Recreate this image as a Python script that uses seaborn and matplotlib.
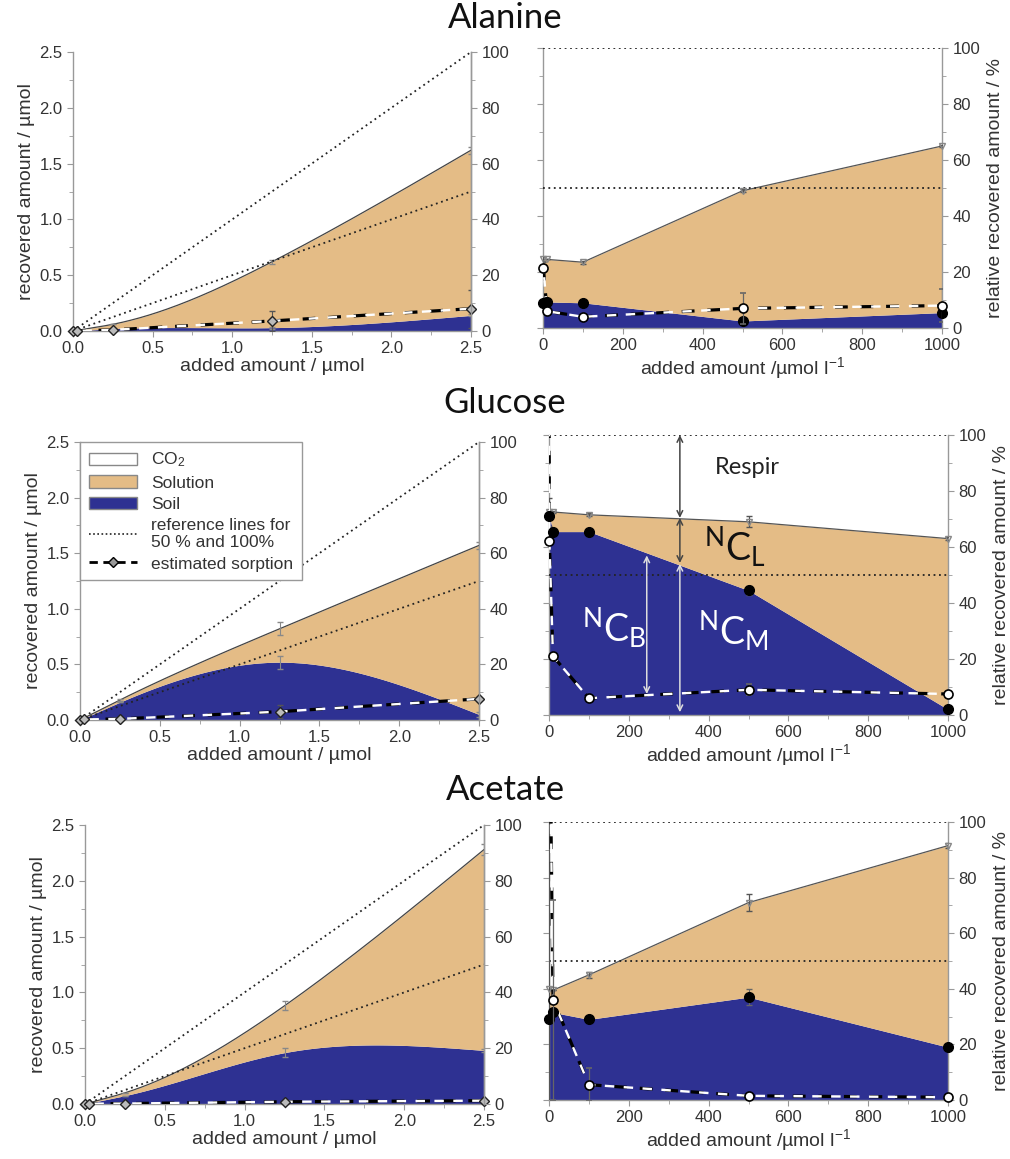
import numpy as np
import matplotlib
matplotlib.use('agg')
import matplotlib.pyplot as plt
from matplotlib.patches import Patch
from matplotlib.lines import Line2D
from matplotlib.ticker import MultipleLocator
import seaborn as sns

# added amounts (left panels, µmol) and concentrations (right panels, µmol/l)
amt = [0, 0.025, 0.25, 1.25, 2.5]
conc = [1, 10, 100, 500, 1000]

# Alanine
ala_amt_tot = [0, 0.006, 0.06, 0.62, 1.62]
ala_amt_tot_err = [0, 0, 0, 0.02, 0.03]
ala_amt_soil = [0, 0.002, 0.02, 0.03, 0.14]
ala_amt_soil_err = [0, 0, 0, 0.01, 0.01]
ala_amt_sorp = [0, 0.001, 0.01, 0.09, 0.2]
ala_amt_sorp_err = [0, 0, 0, 0.09, 0.17]
ala_pct_tot = [24.5, 24.5, 23.5, 49, 65]
ala_pct_tot_err = [1, 0, 0.5, 0.5, 0.5]
ala_pct_soil = [9, 9.3, 9, 2.5, 5.5]
ala_pct_soil_err = [2, 0, 0, 0, 0]
ala_sorp_x = [1, 10, 100, 500, 1000]
ala_pct_sorp = [21.5, 6, 4, 7, 8]
ala_pct_sorp_err = [2, 0, 0, 5.5, 6]

# Glucose
glu_amt_tot = [0, 0.018, 0.18, 0.82, 1.57]
glu_amt_tot_err = [0, 0, 0.01, 0.06, 0.03]
glu_amt_soil = [0, 0.016, 0.16, 0.52, 0.05]
glu_amt_soil_err = [0, 0, 0, 0.06, 0.02]
glu_amt_sorp = [0, 0.005, 0.01, 0.075, 0.19]
glu_amt_sorp_err = [0, 0, 0, 0.06, 0.02]
glu_pct_tot = [72.5, 72.5, 71.5, 69, 63]
glu_pct_tot_err = [5, 0.5, 0.5, 2, 0.5]
glu_pct_soil = [71, 65.5, 65.5, 44.5, 2]
glu_pct_soil_err = [1, 0, 0, 1.5, 0]
glu_sorp_x = [0, 1, 10, 100, 500, 1000]
glu_pct_sorp = [140, 62, 21, 6, 9, 7.5]
glu_pct_sorp_err = [0, 0, 0, 0, 2, 0]

# Acetate
ace_amt_tot = [0, 0.01, 0.1, 0.88, 2.28]
ace_amt_tot_err = [0, 0, 0, 0.04, 0.05]
ace_amt_soil = [0, 0.008, 0.075, 0.46, 0.48]
ace_amt_soil_err = [0, 0, 0, 0.04, 0.01]
ace_amt_sorp = [0, 0.003, 0.004, 0.02, 0.03]
ace_amt_sorp_err = [0, 0, 0, 0.01, 0.01]
ace_pct_tot = [40, 39.5, 45, 71, 91.5]
ace_pct_tot_err = [60, 0, 1, 3, 1]
ace_pct_soil = [29, 31.5, 29, 37, 19]
ace_pct_soil_err = [0, 0, 0, 3, 0]
ace_sorp_x = [1, 10, 100, 500, 1000]
ace_pct_sorp = [150, 36, 5.5, 1.5, 1]
ace_pct_sorp_err = [0, 36, 6, 1, 0]

TAN = '#E4BC86'
NAVY = '#2E3192'
SPINE = '#999999'
TXT = '#333333'
TICK_FS = 12
LABEL_FS = 14

sns.set_style('ticks')
plt.rcParams['font.family'] = ['Liberation Sans', 'DejaVu Sans']
plt.rcParams['mathtext.fontset'] = 'custom'
plt.rcParams['mathtext.rm'] = 'Liberation Sans'
plt.rcParams['mathtext.it'] = 'Liberation Sans:italic'
plt.rcParams['mathtext.bf'] = 'Liberation Sans:bold'
plt.rcParams['mathtext.sf'] = 'Lato'


def spline(x, y, n=300):
    # natural cubic spline, used only to draw the smooth curves of the left panels
    x = np.asarray(x, float)
    y = np.asarray(y, float)
    h = np.diff(x)
    m = len(x)
    A = np.zeros((m, m))
    r = np.zeros(m)
    A[0, 0] = A[-1, -1] = 1
    for i in range(1, m - 1):
        A[i, i - 1] = h[i - 1]
        A[i, i] = 2 * (h[i - 1] + h[i])
        A[i, i + 1] = h[i]
        r[i] = 3 * ((y[i + 1] - y[i]) / h[i] - (y[i] - y[i - 1]) / h[i - 1])
    c = np.linalg.solve(A, r)
    b = (y[1:] - y[:-1]) / h - h * (2 * c[:-1] + c[1:]) / 3
    d = (c[1:] - c[:-1]) / (3 * h)
    xs = np.linspace(x[0], x[-1], n)
    idx = np.clip(np.searchsorted(x, xs) - 1, 0, m - 2)
    dx = xs - x[idx]
    ys = y[idx] + b[idx] * dx + c[idx] * dx ** 2 + d[idx] * dx ** 3
    return xs, ys


def style_axis(ax):
    for s in ['left', 'right', 'bottom']:
        ax.spines[s].set_color(SPINE)
        ax.spines[s].set_linewidth(1.0)
    ax.spines['top'].set_visible(False)
    ax.tick_params(which='both', colors=SPINE, labelcolor=TXT, labelsize=TICK_FS, direction='out')
    ax.tick_params(which='major', length=4)
    ax.tick_params(which='minor', length=3)


def clip_bars(container):
    # error bar lines stay inside the axes, markers may overhang the spines
    for c in container[1]:
        c.set_clip_on(True)
    for c in container[2]:
        c.set_clip_on(True)


def sorption_line(ax, x, y, lw=2.3):
    ax.plot(x, y, color='black', lw=lw, ls=(0, (4, 4)), zorder=5, solid_capstyle='butt')
    ax.plot(x, y, color='white', lw=lw - 0.6, ls=(4, (4, 4)), zorder=5)


def amount_panel(ax, tot, tot_err, soil, soil_err, sorp, sorp_err):
    xs, tot_s = spline(amt, tot)
    _, soil_s = spline(amt, soil)
    tot_s = np.maximum(tot_s, 0)
    soil_s = np.clip(soil_s, 0, tot_s)
    ax.fill_between(xs, 0, soil_s, color=NAVY, lw=0, zorder=2)
    ax.fill_between(xs, soil_s, tot_s, color=TAN, lw=0, zorder=2)
    sns.lineplot(x=xs, y=tot_s, ax=ax, color='#444444', lw=0.9, sort=False, estimator=None, zorder=3)
    ax.errorbar(amt, tot, yerr=tot_err, fmt='none', ecolor='#888888', capsize=2.5, lw=0.8, zorder=4)
    ax.errorbar(amt, soil, yerr=soil_err, fmt='none', ecolor='#888888', capsize=2.5, lw=0.8, zorder=4)
    ax.plot([0, 2.5], [0, 2.5], ls=(0, (1, 2)), color='#222222', lw=1.3, zorder=4)
    ax.plot([0, 2.5], [0, 1.25], ls=(0, (1, 2)), color='#222222', lw=1.3, zorder=4)
    sorption_line(ax, amt, sorp)
    eb = ax.errorbar(amt, sorp, yerr=sorp_err, fmt='D', ms=5, mfc='#bbbbbb', mec='#222222',
                     ecolor='#555555', capsize=2.5, lw=0.8, zorder=6, clip_on=False)
    clip_bars(eb)
    ax.set_xlim(0, 2.5)
    ax.set_ylim(0, 2.5)
    ax.xaxis.set_major_locator(MultipleLocator(0.5))
    ax.xaxis.set_minor_locator(MultipleLocator(0.25))
    ax.yaxis.set_major_locator(MultipleLocator(0.5))
    ax.yaxis.set_minor_locator(MultipleLocator(0.25))
    ax.set_xticklabels([f'{v:.1f}' for v in ax.get_xticks()])
    ax.set_yticklabels([f'{v:.1f}' for v in ax.get_yticks()])
    ax.set_xlabel('added amount / µmol', fontsize=LABEL_FS, color=TXT, labelpad=1)
    ax.set_ylabel('recovered amount / µmol', fontsize=LABEL_FS, color=TXT, labelpad=3)
    style_axis(ax)
    ax.tick_params(right=False)
    ax2 = ax.twinx()
    ax2.set_ylim(0, 100)
    ax2.yaxis.set_major_locator(MultipleLocator(20))
    ax2.yaxis.set_minor_locator(MultipleLocator(10))
    style_axis(ax2)
    ax2.spines['left'].set_visible(False)
    ax2.spines['bottom'].set_visible(False)
    ax2.grid(False)
    return ax2


def conc_panel(ax, tot, tot_err, soil, soil_err, sorp_x, sorp, sorp_err):
    ax.fill_between(conc, 0, soil, color=NAVY, lw=0, zorder=2)
    ax.fill_between(conc, soil, tot, color=TAN, lw=0, zorder=2)
    sns.lineplot(x=conc, y=tot, ax=ax, color='#555555', lw=0.9, sort=False, estimator=None, zorder=3)
    ax.axhline(100, ls=(0, (1, 2)), color='#222222', lw=1.3, zorder=4)
    ax.axhline(50, ls=(0, (1, 2)), color='#222222', lw=1.3, zorder=4)
    eb = ax.errorbar(conc, tot, yerr=tot_err, fmt='v', ms=4, mfc='none', mec='#888888',
                     ecolor='#555555', capsize=2.5, lw=0.9, zorder=4, clip_on=False)
    clip_bars(eb)
    eb = ax.errorbar(conc, soil, yerr=soil_err, fmt='o', ms=7, color='black',
                     ecolor='#666666', capsize=2.5, lw=0.8, zorder=6, clip_on=False)
    clip_bars(eb)
    sorption_line(ax, sorp_x, sorp)
    sx = np.asarray(sorp_x, float)
    sy = np.asarray(sorp, float)
    se = np.asarray(sorp_err, float)
    keep = sy <= 100
    eb = ax.errorbar(sx[keep], sy[keep], yerr=se[keep], fmt='o', ms=6.5, mfc='white', mec='black',
                     mew=1.2, ecolor='#666666', capsize=2.5, lw=0.9, zorder=7, clip_on=False)
    clip_bars(eb)
    ax.set_xlim(0, 1000)
    ax.set_ylim(0, 100)
    ax.xaxis.set_major_locator(MultipleLocator(200))
    ax.xaxis.set_minor_locator(MultipleLocator(100))
    ax.yaxis.set_major_locator(MultipleLocator(20))
    ax.yaxis.set_minor_locator(MultipleLocator(10))
    style_axis(ax)
    ax.tick_params(axis='y', which='both', left=True, right=True, labelleft=False, labelright=True)
    ax.yaxis.set_label_position('right')
    ax.set_xlabel('added amount /µmol l$^{-1}$', fontsize=LABEL_FS, color=TXT, labelpad=1)
    ax.set_ylabel('relative recovered amount / %', fontsize=LABEL_FS, color=TXT, labelpad=5)


fig = plt.figure(figsize=(10.1, 11.59), dpi=100)
W, H = 1010.0, 1159.0


def rect(x0, x1, ytop, ybot):
    return [x0 / W, 1 - ybot / H, (x1 - x0) / W, (ybot - ytop) / H]


ax_a1 = fig.add_axes(rect(73, 471, 52, 331))
ax_a2 = fig.add_axes(rect(543, 942, 48, 328))
ax_g1 = fig.add_axes(rect(80, 479, 442, 720))
ax_g2 = fig.add_axes(rect(549, 948, 435, 715))
ax_c1 = fig.add_axes(rect(85, 484, 825, 1104))
ax_c2 = fig.add_axes(rect(549, 948, 822, 1100))

amount_panel(ax_a1, ala_amt_tot, ala_amt_tot_err, ala_amt_soil, ala_amt_soil_err, ala_amt_sorp, ala_amt_sorp_err)
conc_panel(ax_a2, ala_pct_tot, ala_pct_tot_err, ala_pct_soil, ala_pct_soil_err, ala_sorp_x, ala_pct_sorp, ala_pct_sorp_err)
g_twin = amount_panel(ax_g1, glu_amt_tot, glu_amt_tot_err, glu_amt_soil, glu_amt_soil_err, glu_amt_sorp, glu_amt_sorp_err)
conc_panel(ax_g2, glu_pct_tot, glu_pct_tot_err, glu_pct_soil, glu_pct_soil_err, glu_sorp_x, glu_pct_sorp, glu_pct_sorp_err)
amount_panel(ax_c1, ace_amt_tot, ace_amt_tot_err, ace_amt_soil, ace_amt_soil_err, ace_amt_sorp, ace_amt_sorp_err)
conc_panel(ax_c2, ace_pct_tot, ace_pct_tot_err, ace_pct_soil, ace_pct_soil_err, ace_sorp_x, ace_pct_sorp, ace_pct_sorp_err)

# titles
for name, ypix in [('Alanine', 18), ('Glucose', 403), ('Acetate', 790)]:
    fig.text(0.5, 1 - ypix / H, name, ha='center', va='center', fontsize=25, family='Lato', color='#111111')

# legend in the glucose amount panel
handles = [
    Patch(facecolor='white', edgecolor='#888888', label='CO$_2$'),
    Patch(facecolor=TAN, edgecolor='#888888', label='Solution'),
    Patch(facecolor=NAVY, edgecolor='#888888', label='Soil'),
    Line2D([], [], color='#222222', ls=(0, (1, 1.5)), lw=1.2, label='reference lines for\n50 % and 100%'),
    Line2D([], [], color='black', ls=(0, (3, 2)), lw=2, marker='D', ms=5, mfc='#999999', mec='black',
           label='estimated sorption'),
]
leg = g_twin.legend(handles=handles, loc='upper left', bbox_to_anchor=(0, 1), borderaxespad=0,
                    fontsize=12.5, handlelength=2.8, labelspacing=0.35, fancybox=False,
                    framealpha=1, edgecolor='#999999', borderpad=0.5)
for t in leg.get_texts():
    t.set_color(TXT)

# annotations in the glucose concentration panel
arrow_k = dict(arrowstyle='<->', color='#444444', lw=1.1, shrinkA=0, shrinkB=0)
arrow_w = dict(arrowstyle='<->', color='#dddddd', lw=1.1, shrinkA=0, shrinkB=0)
ax_g2.annotate('', xy=(328, 100), xytext=(328, 70.4), arrowprops=arrow_k, zorder=8)
ax_g2.annotate('', xy=(328, 70.4), xytext=(328, 54.3), arrowprops=arrow_k, zorder=8)
ax_g2.annotate('', xy=(245, 57), xytext=(245, 7.5), arrowprops=arrow_w, zorder=8)
ax_g2.annotate('', xy=(328, 54), xytext=(328, 1), arrowprops=arrow_w, zorder=8)
ax_g2.text(496, 88.5, 'Respir', fontsize=17, family='Lato', color='#222222', ha='center', va='center', zorder=9)
ax_g2.text(466, 60, r'$\mathsf{^{N}C_{L}}$', fontsize=27, color='#111111', ha='center', va='center', zorder=9)
ax_g2.text(163, 31, r'$\mathsf{^{N}C_{B}}$', fontsize=27, color='white', ha='center', va='center', zorder=9)
ax_g2.text(461, 30, r'$\mathsf{^{N}C_{M}}$', fontsize=27, color='white', ha='center', va='center', zorder=9)

fig.savefig('out.png', dpi=100)
